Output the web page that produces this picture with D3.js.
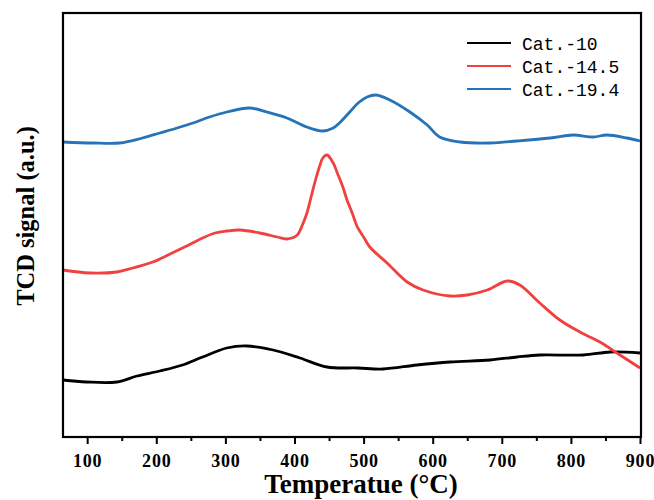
<!DOCTYPE html>
<html>
<head>
<meta charset="utf-8">
<script src="https://cdn.jsdelivr.net/npm/d3@7"></script>
<style>
  body { margin: 0; background: #fff; }
  svg { display: block; }
</style>
</head>
<body>
<div id="chart"></div>
<script>
// data (temperature in C, signal in arbitrary units)
var seriesNames = ["Cat.-10", "Cat.-14.5", "Cat.-19.4"];
var seriesColors = ["#000000", "#f0403f", "#2673b8"];

var temp10 = [65, 99, 143, 172, 205, 238, 267, 302, 331, 369, 408, 447, 492, 528, 577, 625, 683, 722, 755, 818, 857, 900];
var signal10 = [57, 55, 55, 61, 66, 72, 80, 89, 91, 87, 79, 70, 69, 68, 72, 75, 77, 80, 82, 82, 85, 84];

var temp145 = [65, 104, 143, 166, 195, 220, 244, 267, 285, 302, 321, 350, 375, 389, 404, 412, 418, 424, 430, 436, 441, 447, 456, 462, 470, 476, 483, 491, 500, 509, 534, 563, 586, 625, 650, 679, 708, 726, 755, 784, 813, 842, 871, 900];
var signal145 = [167, 164, 165, 169, 175, 183, 191, 199, 204, 206, 207, 204, 200, 198, 202, 213, 224, 240, 256, 270, 279, 282, 274, 264, 250, 237, 225, 210, 200, 190, 174, 155, 147, 141, 142, 147, 156, 152, 134, 117, 105, 95, 82, 69];

var temp194 = [65, 108, 147, 180, 205, 230, 253, 277, 302, 335, 360, 389, 418, 441, 456, 465, 480, 492, 505, 518, 538, 567, 592, 610, 640, 683, 722, 770, 803, 832, 852, 881, 900];
var signal194 = [295, 294, 294, 299, 304, 309, 314, 320, 325, 329, 325, 319, 310, 306, 309, 314, 325, 334, 340, 342, 337, 325, 312, 300, 295, 294, 296, 299, 302, 300, 302, 299, 296];

var majorTicks = [100, 200, 300, 400, 500, 600, 700, 800, 900];
var minorTicks = [150, 250, 350, 450, 550, 650, 750, 850];

var svgWidth = 654;
var svgHeight = 500;
// plot box (note: "top" is reserved on window, so prefix these)
var plotLeft = 63, plotRight = 641, plotTop = 13, plotBottom = 437;

var svg = d3
  .select("#chart")
  .append("svg")
  .attr("width", svgWidth)
  .attr("height", svgHeight);

var xScale = d3.scaleLinear().domain([65, 900]).range([plotLeft, plotRight - 1]);
var yScale = d3.scaleLinear().domain([0, 424]).range([plotBottom, plotTop]);

var series = [
  { name: seriesNames[0], color: seriesColors[0], t: temp10, s: signal10 },
  { name: seriesNames[1], color: seriesColors[1], t: temp145, s: signal145 },
  { name: seriesNames[2], color: seriesColors[2], t: temp194, s: signal194 }
];

var line = d3.line()
  .x(function(d) { return xScale(d[0]); })
  .y(function(d) { return yScale(d[1]); })
  .curve(d3.curveCatmullRom.alpha(0.5));

var plot = svg.append("g");

series.forEach(function(ser) {
  var pts = ser.t.map(function(t, i) { return [t, ser.s[i]]; });
  plot.append("path")
    .datum(pts)
    .attr("fill", "none")
    .attr("stroke", ser.color)
    .attr("stroke-width", 2.8)
    .attr("stroke-linejoin", "round")
    .attr("d", line);
});

// minor ticks
svg.append("g")
  .attr("transform", "translate(0," + plotBottom + ")")
  .call(d3.axisBottom(xScale).tickValues(minorTicks).tickSize(4).tickFormat(""))
  .call(function(g) { g.select(".domain").remove(); })
  .selectAll("line").attr("stroke-width", 2);

// major ticks
var xAxis = svg.append("g")
  .attr("transform", "translate(0," + plotBottom + ")")
  .call(d3.axisBottom(xScale).tickValues(majorTicks).tickSize(7).tickPadding(10))
  .call(function(g) { g.select(".domain").remove(); });

xAxis.selectAll("line").attr("stroke-width", 2);
xAxis.selectAll("text")
  .attr("font-family", "'Liberation Serif', 'Times New Roman', serif")
  .attr("font-weight", "bold")
  .attr("font-size", 18)
  .attr("letter-spacing", 0.8)
  .attr("fill", "#000");

// frame
svg.append("rect")
  .attr("x", plotLeft)
  .attr("y", plotTop)
  .attr("width", plotRight - plotLeft)
  .attr("height", plotBottom - plotTop)
  .attr("fill", "none")
  .attr("stroke", "#000")
  .attr("stroke-width", 2.2);

// axis titles
svg.append("text")
  .attr("x", 361)
  .attr("y", 493)
  .attr("text-anchor", "middle")
  .attr("font-family", "'Liberation Serif', 'Times New Roman', serif")
  .attr("font-weight", "bold")
  .attr("font-size", 27)
  .text("Temperatue (\u00B0C)");

svg.append("text")
  .attr("transform", "translate(34,216) rotate(-90)")
  .attr("text-anchor", "middle")
  .attr("font-family", "'Liberation Serif', 'Times New Roman', serif")
  .attr("font-weight", "bold")
  .attr("font-size", 24.5)
  .text("TCD signal (a.u.)");

// legend
var legend = svg.append("g").attr("transform", "translate(467,43)");
series.forEach(function(ser, i) {
  var g = legend.append("g").attr("transform", "translate(0," + (i * 23) + ")");
  g.append("line")
    .attr("x1", 0).attr("x2", 44)
    .attr("y1", 0).attr("y2", 0)
    .attr("stroke", ser.color)
    .attr("stroke-width", 2);
  g.append("text")
    .attr("x", 55)
    .attr("y", 6.5)
    .attr("font-family", "'Liberation Mono', monospace")
    .attr("font-size", 18)
    .attr("fill", "#000")
    .text(ser.name);
});
</script>
</body>
</html>
